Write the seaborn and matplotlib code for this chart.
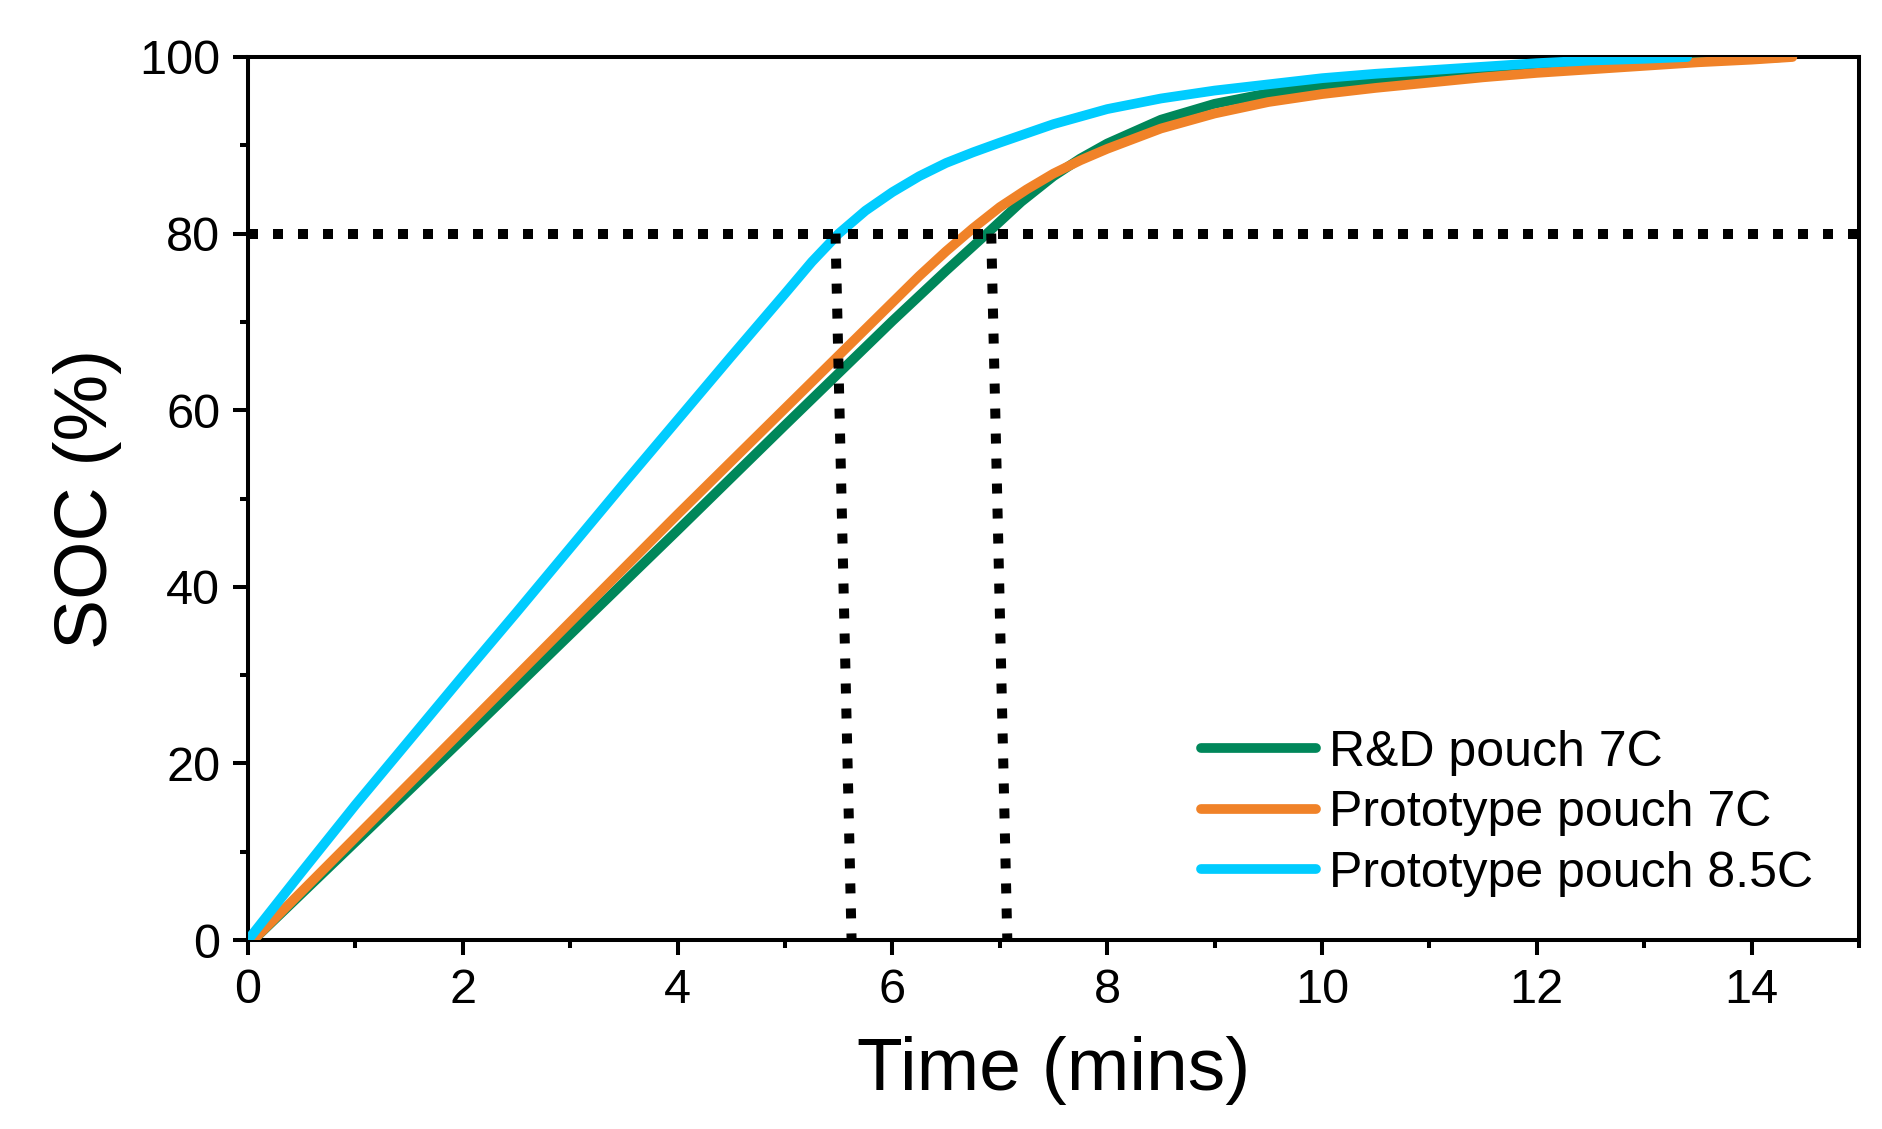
import matplotlib
matplotlib.use("Agg")
import matplotlib.pyplot as plt
import seaborn as sns
import pandas as pd
from matplotlib.ticker import MultipleLocator

# ---- data ----
series_names = ["R&D pouch 7C", "Prototype pouch 7C", "Prototype pouch 8.5C"]
colors = ["#00875A", "#F08228", "#00CCFF"]

rd_time = [0, 0.05, 1, 2, 3, 4, 5, 5.5, 6, 6.5, 6.88, 7.2, 7.5, 7.75, 8, 8.5, 9, 9.5, 10,
           10.5, 11, 11.5, 12, 12.5, 13, 13.5, 14, 14.3]
rd_soc = [0, 0, 11.1, 22.8, 34.6, 46.4, 58.3, 64.2, 70.1, 75.8, 80.0, 83.6, 86.5, 88.5, 90.2,
          92.9, 94.7, 95.9, 96.7, 97.4, 97.9, 98.3, 98.7, 99.0, 99.3, 99.6, 99.8, 100]

p7_time = [0, 0.05, 1, 2, 3, 4, 5, 5.5, 6, 6.25, 6.5, 6.75, 7, 7.25, 7.5, 7.75, 8, 8.5, 9,
           9.5, 10, 10.5, 11, 11.5, 12, 12.5, 13, 13.5, 14, 14.38]
p7_soc = [0, 0, 11.6, 23.8, 36.0, 48.2, 60.2, 66.2, 72.2, 75.2, 78.0, 80.6, 83.0, 85.0, 86.8,
          88.3, 89.6, 91.9, 93.6, 94.9, 95.8, 96.5, 97.1, 97.7, 98.2, 98.6, 99.0, 99.4, 99.7, 100]

p85_time = [0, 0.5, 1, 1.5, 2, 2.5, 3, 3.5, 4, 4.5, 5, 5.25, 5.5, 5.75, 6, 6.25, 6.5, 6.75,
            7, 7.5, 8, 8.5, 9, 9.5, 10, 10.5, 11, 11.5, 12, 12.5, 13, 13.4]
p85_soc = [0, 7.7, 15.3, 22.6, 29.9, 37.1, 44.4, 51.7, 58.9, 66.1, 73.2, 76.8, 80.0, 82.6, 84.7,
           86.5, 88.0, 89.2, 90.3, 92.4, 94.1, 95.3, 96.2, 96.9, 97.6, 98.1, 98.5, 98.9, 99.3,
           99.6, 99.8, 100]

# guide lines at 80 % SOC
guide_level = 80
guide_x_top = [5.47, 6.92]
guide_x_bottom = [5.62, 7.07]

xticks = [0, 2, 4, 6, 8, 10, 12, 14]
yticks = [0, 20, 40, 60, 80, 100]

df = pd.concat([
    pd.DataFrame({"Time": rd_time, "SOC": rd_soc, "Cell": series_names[0]}),
    pd.DataFrame({"Time": p7_time, "SOC": p7_soc, "Cell": series_names[1]}),
    pd.DataFrame({"Time": p85_time, "SOC": p85_soc, "Cell": series_names[2]}),
], ignore_index=True)

sns.set_style("ticks")
plt.rcParams["font.family"] = ["Liberation Sans", "DejaVu Sans"]
plt.rcParams["text.color"] = "black"
plt.rcParams["axes.labelcolor"] = "black"
plt.rcParams["xtick.color"] = "black"
plt.rcParams["ytick.color"] = "black"

fig = plt.figure(figsize=(18.83, 11.29), dpi=100)
ax = fig.add_axes([248 / 1883, 1 - 940 / 1129, (1859 - 248) / 1883, (940 - 57) / 1129])

sns.lineplot(data=df, x="Time", y="SOC", hue="Cell", hue_order=series_names,
             palette=colors, linewidth=7, sort=False, ax=ax, zorder=3)

# dotted guides
dot_kw = dict(color="black", linewidth=7.2, linestyle=(0, (1.0, 1.5)),
              dash_capstyle="butt", zorder=4)
ax.plot([0, 15], [guide_level, guide_level], **dot_kw)
for xt, xb in zip(guide_x_top, guide_x_bottom):
    ax.plot([xt, xb], [guide_level, 0], **dot_kw)

ax.set_xlim(0, 15)
ax.set_ylim(0, 100)
ax.set_xticks(xticks)
ax.set_yticks(yticks)
ax.xaxis.set_minor_locator(MultipleLocator(1))
ax.yaxis.set_minor_locator(MultipleLocator(10))

for s in ax.spines.values():
    s.set_linewidth(2.9)
    s.set_color("black")
    s.set_visible(True)

ax.tick_params(axis="both", which="major", direction="out", length=11, width=2.9,
               labelsize=35, colors="black", pad=9)
ax.tick_params(axis="both", which="minor", direction="out", length=6, width=2.9)
ax.tick_params(top=False, right=False, which="both")

ax.set_xlabel("Time (mins)", fontsize=54, labelpad=17, color="black")
ax.set_ylabel("SOC (%)", fontsize=54, labelpad=12, color="black")

leg = ax.legend(loc="center left", bbox_to_anchor=(0.5916, 0.1438), frameon=False,
                fontsize=36, handlelength=2.3, handletextpad=0.25, labelspacing=0.29,
                borderpad=0, borderaxespad=0, title=None)
for line in leg.get_lines():
    line.set_linewidth(7)
for t in leg.get_texts():
    t.set_color("black")

fig.savefig("out.png", dpi=100, facecolor="white")
